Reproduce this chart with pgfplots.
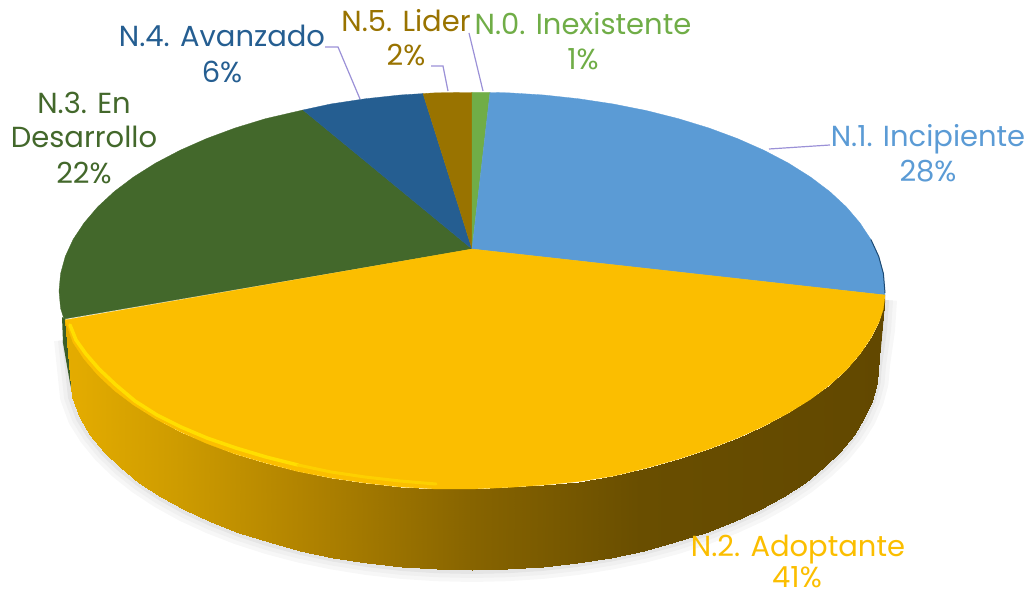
\documentclass[border=0pt]{standalone}
\usepackage{fontspec}
\setmainfont{Poppins}
\usepackage{pgfplots}
\usepackage{pgfplotstable}
\pgfplotsset{compat=1.18}
\definecolor{cN0}{HTML}{70AD47}
\definecolor{cN1}{HTML}{5B9BD5}
\definecolor{cN2}{HTML}{FBBE00}
\definecolor{cN3}{HTML}{43682B}
\definecolor{cN4}{HTML}{255E91}
\definecolor{cN5}{HTML}{997300}
\definecolor{leader}{RGB}{155,145,215}
\tikzset{lab/.style={font=\fontsize{29}{32}\selectfont, anchor=base, inner sep=0pt}}
% lower outline of the pie, used for the soft shadow
\pgfplotstableread{
x y
885 300
883 330
878 365
876.5 382.9
871.8 400.6
864.2 418
853.5 435.1
840 451.6
823.6 467.5
804.6 482.6
783 496.8
759.1 510
733 522
704.9 532.9
675 542.5
643.6 550.8
610.9 557.6
577.1 563
542.5 566.9
507.4 569.2
472 570
436.6 569.2
401.5 566.9
366.9 563
333.1 557.6
300.4 550.8
269 542.5
239.1 532.9
211 522
184.9 510
161 496.8
139.4 482.6
120.4 467.5
104 451.6
90.5 435.1
79.8 418
72 397
66 340
}\bottomarc
\begin{document}
\begin{tikzpicture}
\path[use as bounding box] (0,0) rectangle (1029pt,593pt);
\begin{axis}[
    at={(0,0)}, anchor=south west,
    width=1029pt, height=593pt, scale only axis,
    xmin=0, xmax=1029, ymin=0, ymax=593,
    y dir=reverse, hide axis, clip=false,
    colormap={sidecm}{rgb255(70)=(228,172,0); rgb255(180)=(205,155,0); rgb255(300)=(178,132,0);
        rgb255(472)=(135,100,0); rgb255(640)=(105,78,0); rgb255(885)=(98,72,0)},
    point meta min=70, point meta max=885,
]
% soft shadow under the pie
\addplot[color=black!3, line width=24pt, line join=round] table {\bottomarc};
\addplot[color=black!6, line width=16pt, line join=round] table {\bottomarc};
\addplot[color=black!10, line width=8pt, line join=round] table {\bottomarc};
% sides of the green slice and the right end of the yellow one
\addplot[fill=cN3!90!black, draw=none] coordinates {
    (62,317)(63,343)(70,383)(73,397)(66,320)} --cycle;
\addplot[fill={rgb,255:red,98;green,72;blue,0}, draw=none] coordinates {
    (885,295)(885,303)(881,347)(878,365)} --cycle;
% side of the yellow slice, top edge then bottom edge
\addplot[surf, shader=interp, mesh/rows=2, point meta=x] table {
x y
885 295
883.4 309
879 322
870.9 338
860 354
846.3 370
829.7 385
810.3 399.5
788.4 413
764 426
737.5 438
708.9 449
678.5 459
646.5 468
613.3 476
578.9 481.5
543.7 485
508 487.5
472 489
436 489
400 487
365 483
331 478
297.5 471.4
265.5 463
235 454
206.5 443.4
180 431.7
155.6 418.9
133.7 405.1
114.3 390.5
97.7 375
84 359
73 342.5
65 320

878 365
876.5 382.9
871.8 400.6
864.2 418
853.5 435.1
840 451.6
823.6 467.5
804.6 482.6
783 496.8
759.1 510
733 522
704.9 532.9
675 542.5
643.6 550.8
610.9 557.6
577.1 563
542.5 566.9
507.4 569.2
472 570
436.6 569.2
401.5 566.9
366.9 563
333.1 557.6
300.4 550.8
269 542.5
239.1 532.9
211 522
184.9 510
161 496.8
139.4 482.6
120.4 467.5
104 451.6
90.5 435.1
79.8 418
72 397
};
% top faces, apex at (472,249)
\addplot[fill=cN3, draw=cN3, line width=0.3pt] coordinates {
    (472,249)(64,319)(60.6,308.4)(59,291)(60.6,273.6)(65.3,256.4)(73.1,239.5)(84,223)(97.7,206.9)
    (114.3,191.5)(133.7,176.9)(155.6,163.1)(180,150.3)(206.5,138.6)(235.1,128)(265.5,118.7)(303,110)} --cycle;
\addplot[fill=cN4, draw=cN4, line width=0.3pt] coordinates {
    (472,249)(303,110)(330.7,104)(365.1,98.8)(400.3,95)(423,93.6)} --cycle;
\addplot[fill=cN5, draw=cN5, line width=0.3pt] coordinates {
    (472,249)(423,93.6)(436,92.8)(472,92.5)} --cycle;
\addplot[fill=cN0, draw=cN0, line width=0.3pt] coordinates {
    (472,249)(472,92.5)(490,92.5)} --cycle;
\addplot[fill=cN1, draw=cN1, line width=0.3pt] coordinates {
    (472,249)(490,92.5)(508,92.8)(543.7,95)(578.9,98.8)(613.3,104)(646.5,110.6)(678.5,118.7)(708.9,128)
    (737.5,138.6)(764,150.3)(788.4,163.1)(810.3,176.9)(829.7,191.5)(846.3,206.9)(860,223)(870.9,239.5)
    (878.7,256.4)(883.4,273.6)(885,295)} --cycle;
\addplot[fill=cN2, draw=cN2, line width=0.3pt] coordinates {
    (472,249)(885,295)(883.4,309)(879,322)(870.9,338)(860,354)(846.3,370)(829.7,385)(810.3,399.5)(788.4,413)
    (764,426)(737.5,438)(708.9,449)(678.5,459)(646.5,468)(613.3,476)(578.9,481.5)(543.7,485)(508,487.5)(472,489)
    (436,489)(400,487)(365,483)(331,478)(297.5,471.4)(265.5,463)(235,454)(206.5,443.4)(180,431.7)(155.6,418.9)
    (133.7,405.1)(114.3,390.5)(97.7,375)(84,359)(73,342.5)(65,320)} --cycle;
% rim highlights
\addplot[color={rgb,255:red,255;green,222;blue,0}, line width=3.5pt, line cap=round, line join=round] coordinates {
    (70,325)(76,340)(86,354)(99,369)(116,385)(135,401)(157,415)(181,427)(207,438)(236,448)(266,457)(298,465)};
\addplot[color={rgb,255:red,253;green,208;blue,0}, line width=3pt, line cap=round, line join=round] coordinates {
    (298,465)(331,472)(365,477)(400,481)(436,484)};
\addplot[color=cN4!80!black, line width=1pt] coordinates {
    (870.9,239.5)(878.7,256.4)(883.4,273.6)(885,293)};
% leader lines
\addplot[color=leader, line width=1.2pt] coordinates {(325,47)(338,47)(360,99)};
\addplot[color=leader, line width=1.2pt] coordinates {(431,66)(443,66)(448,91)};
\addplot[color=leader, line width=1.2pt] coordinates {(469,33)(483,91)};
\addplot[color=leader, line width=1.2pt] coordinates {(830,145)(769,149)};
% labels
\node[lab, text=cN0] at (axis cs:583,35) {N.0. Inexistente};
\node[lab, text=cN0] at (axis cs:583,70) {1\%};
\node[lab, text=cN1] at (axis cs:928,147) {N.1. Incipiente};
\node[lab, text=cN1] at (axis cs:928,182) {28\%};
\node[lab, text=cN2] at (axis cs:798,557) {N.2. Adoptante};
\node[lab, text=cN2] at (axis cs:797,587) {41\%};
\node[lab, text=cN3] at (axis cs:84,114) {N.3. En};
\node[lab, text=cN3] at (axis cs:84,148) {Desarrollo};
\node[lab, text=cN3] at (axis cs:84,184) {22\%};
\node[lab, text=cN4] at (axis cs:222,47) {N.4. Avanzado};
\node[lab, text=cN4] at (axis cs:222,83) {6\%};
\node[lab, text=cN5] at (axis cs:406,32) {N.5. Lider};
\node[lab, text=cN5] at (axis cs:406,66) {2\%};
\end{axis}
\end{tikzpicture}
\end{document}
